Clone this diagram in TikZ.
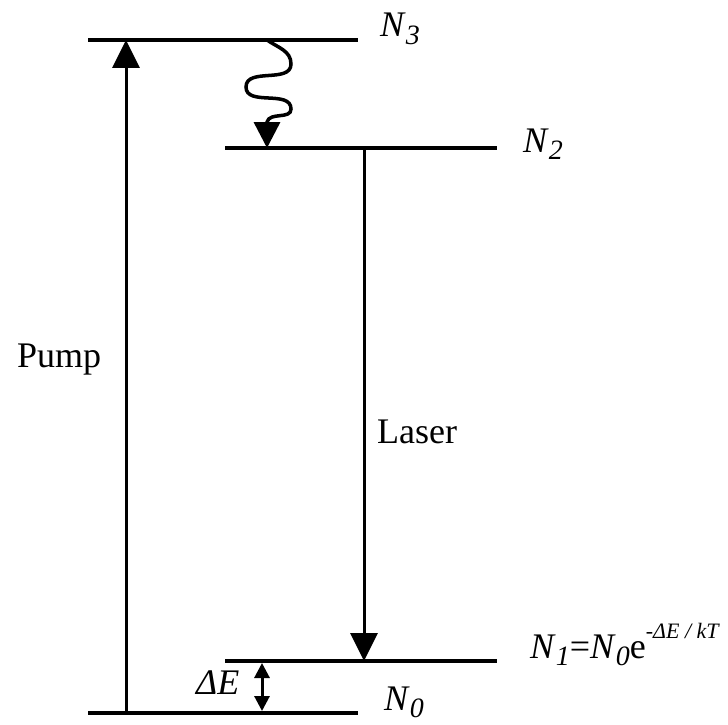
\documentclass[tikz,border=0pt]{standalone}
\usepackage{fontspec}
\setmainfont{Liberation Serif}
\usetikzlibrary{arrows.meta,calc}
\newcommand\mysb[1]{\raisebox{-0.22em}{\fontsize{28}{28}\selectfont\textit{#1}}}
\newcommand\mysp[1]{\raisebox{0.55em}{\fontsize{22}{22}\selectfont\textit{#1}}}
\begin{document}
\begin{tikzpicture}[x=1pt,y=-1pt,
  level/.style={line width=4pt},
  trans/.style={line width=3pt,-{Triangle[length=28pt,width=27pt]}},
  small/.style={line width=3pt,{Triangle[length=15pt,width=15pt]}-{Triangle[length=15pt,width=15pt]}},
  lbl/.style={inner sep=0pt,anchor=base west,font=\fontsize{36}{42}\selectfont},
]
\useasboundingbox (0,0) rectangle (728,725);
% level end points
\coordinate (n3l) at (88,40);  \coordinate (n3r) at (358,40);
\coordinate (n2l) at (225,148); \coordinate (n2r) at (497,148);
\coordinate (n1l) at (225,661); \coordinate (n1r) at (497,661);
\coordinate (n0l) at (88,713);  \coordinate (n0r) at (358,713);
% levels
\draw[level] (n3l) -- (n3r);
\draw[level] (n2l) -- (n2r);
\draw[level] (n1l) -- (n1r);
\draw[level] (n0l) -- (n0r);
% transition points
\coordinate (pb) at (126,713); \coordinate (pt) at (126,40);
\coordinate (lt) at (364,148); \coordinate (lb) at (364,661);
\coordinate (dt) at (262,663); \coordinate (db) at (262,711);
\coordinate (w0) at (267,40);  \coordinate (w1) at (267,148);
% arrows
\draw[trans] (pb) -- (pt);
\draw[trans] (lt) -- (lb);
\draw[small] (dt) -- (db);
\draw[line width=3.5pt,-{Triangle[length=26pt,width=26pt]}] (w0) to[out=-35,in=90] (291,64) to[out=-90,in=90] (246,87)
  to[out=-90,in=90] (291,109) to[out=-90,in=75] ($(w1)+(0,-26)$) -- (w1);
% labels
\node[lbl] (pump) at (17,367) {Pump};
\node[lbl] (laser) at (377,443) {Laser};
\node[lbl] (de) at (196,694) {\textit{ΔE}};
\node[lbl] (l3) at (380,37) {\textit{N}\mysb{3}};
\node[lbl] (l2) at (523,152) {\textit{N}\mysb{2}};
\node[lbl] (l0) at (384,710) {\textit{N}\mysb{0}};
\node[lbl] (l1) at (530,658) {\textit{N}\mysb{1}=\textit{N}\mysb{0}e\mysp{-ΔE / kT}};
\end{tikzpicture}
\end{document}
